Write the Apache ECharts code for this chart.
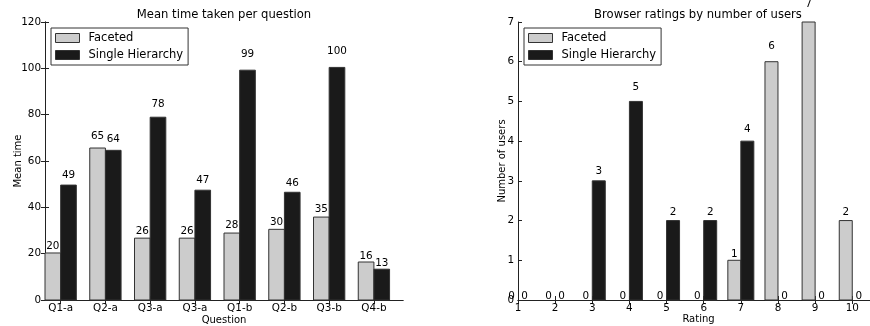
<!DOCTYPE html>
<html><head><meta charset="utf-8">
<script src="https://cdn.jsdelivr.net/npm/echarts@6/dist/echarts.min.js"></script>
<style>html,body{margin:0;padding:0;background:#fff}#c{width:870px;height:326px}</style>
</head><body><div id="c"></div>
<script>
const questions = ['Q1-a','Q2-a','Q3-a','Q3-a','Q1-b','Q2-b','Q3-b','Q4-b'];
const facetedTime = [20.3, 65.6, 26.7, 26.7, 28.9, 30.5, 35.8, 16.4];
const singleTime  = [49.6, 64.6, 78.9, 47.4, 99.2, 46.5, 100.4, 13.3];
const ratings = [1,2,3,4,5,6,7,8,9,10];
const facetedUsers = [0,0,0,0,0,0,1,6,7,2];
const singleUsers  = [0,0,3,5,2,2,4,0,0,0];

const FONT = 'DejaVu Sans';
const W = 0.35;
const FACET_COLOR = '#cccccc', SINGLE_COLOR = '#1a1a1a', EDGE = '#333';

function makeRender(offset, color) {
  return function (params, api) {
    const x = api.value(0) + offset;
    const h = api.value(1);
    const p0 = api.coord([x, h]);
    const p1 = api.coord([x + W, 0]);
    const children = [];
    if (h > 0) {
      children.push({type:'rect', shape:{x:p0[0], y:p0[1], width:p1[0]-p0[0], height:p1[1]-p0[1]},
        style:{fill:color, stroke:EDGE, lineWidth:1}});
    }
    const t = api.coord([x + W/2, 1.05*h]);
    children.push({type:'text', x:t[0], y:t[1]+1, style:{text:String(Math.floor(h)), fill:'#000',
      fontSize:10.4, fontFamily:FONT, align:'center', verticalAlign:'bottom'}});
    return {type:'group', children};
  };
}

const spine = {show:true, lineStyle:{color:'#222', width:1}};
const tickIn = {show:true, inside:true, length:4, lineStyle:{color:'#222', width:1}};
const lbl = {color:'#000', fontSize:10.4, fontFamily:FONT};
const nameStyle = {fontFamily:FONT, fontSize:10, color:'#000'};

const leftTickPos = questions.map((q,i)=>i+W);

function legendFor(left) {
  return {
    left:left, top:28, orient:'vertical', padding:[3,5,3,4], itemGap:3,
    itemWidth:24, itemHeight:9, borderColor:'#333', borderWidth:1, backgroundColor:'#fff',
    textStyle:{fontFamily:FONT, fontSize:11.5, color:'#000', lineHeight:14, padding:[0,0,0,4]},
    data:[
      {name:'Faceted', icon:'rect', itemStyle:{color:FACET_COLOR, borderColor:EDGE, borderWidth:1}},
      {name:'Single Hierarchy', icon:'rect', itemStyle:{color:SINGLE_COLOR, borderColor:EDGE, borderWidth:1}}
    ]
  };
}

const option = {
  animation:false,
  title:[
    {text:'Mean time taken per question', left:224, top:9, textAlign:'center', padding:0,
     textStyle:{fontFamily:FONT, fontSize:11.6, fontWeight:'normal', color:'#000'}},
    {text:'Browser ratings by number of users', left:698, top:9, textAlign:'center', padding:0,
     textStyle:{fontFamily:FONT, fontSize:11.6, fontWeight:'normal', color:'#000'}}
  ],
  legend:[legendFor(51), legendFor(524)],
  grid:[
    {left:45, top:22, width:358, height:278, outerBoundsMode:'none'},
    {left:518, top:22, width:361, height:278, outerBoundsMode:'none'}
  ],
  xAxis:[
    {type:'value', gridIndex:0, min:0, max:questions.length, position:'bottom',
     axisLine:spine, axisTick:Object.assign({}, tickIn, {customValues:leftTickPos}),
     axisLabel:Object.assign({}, lbl, {margin:3, customValues:leftTickPos,
       formatter:(v)=>questions[Math.round(v-W)]}),
     splitLine:{show:false}, name:'Question', nameLocation:'middle', nameGap:15, nameMoveOverlap:false,
     nameTextStyle:nameStyle},
    {type:'value', gridIndex:0, min:0, max:questions.length, position:'top',
     axisLine:spine, axisTick:Object.assign({}, tickIn, {customValues:leftTickPos}),
     axisLabel:{show:false}, splitLine:{show:false}},
    {type:'value', gridIndex:1, min:1, max:10.72, position:'bottom',
     axisLine:spine, axisTick:Object.assign({}, tickIn, {customValues:ratings}),
     axisLabel:Object.assign({}, lbl, {margin:3, customValues:ratings}),
     splitLine:{show:false}, name:'Rating', nameLocation:'middle', nameGap:14, nameMoveOverlap:false,
     nameTextStyle:nameStyle},
    {type:'value', gridIndex:1, min:1, max:10.72, position:'top',
     axisLine:spine, axisTick:Object.assign({}, tickIn, {customValues:ratings}),
     axisLabel:{show:false}, splitLine:{show:false}}
  ],
  yAxis:[
    {type:'value', gridIndex:0, min:0, max:120, interval:20, position:'left',
     axisLine:spine, axisTick:tickIn, axisLabel:Object.assign({}, lbl, {margin:4}),
     splitLine:{show:false}, name:'Mean time', nameLocation:'middle', nameGap:22, nameMoveOverlap:false,
     nameTextStyle:nameStyle},
    {type:'value', gridIndex:0, min:0, max:120, interval:20, position:'right',
     axisLine:spine, axisTick:tickIn, axisLabel:{show:false}, splitLine:{show:false}},
    {type:'value', gridIndex:1, min:0, max:7, interval:1, position:'left',
     axisLine:spine, axisTick:tickIn, axisLabel:Object.assign({}, lbl, {margin:4}),
     splitLine:{show:false}, name:'Number of users', nameLocation:'middle', nameGap:11, nameMoveOverlap:false,
     nameTextStyle:nameStyle},
    {type:'value', gridIndex:1, min:0, max:7, interval:1, position:'right',
     axisLine:spine, axisTick:tickIn, axisLabel:{show:false}, splitLine:{show:false}}
  ],
  series:[
    {type:'custom', name:'Faceted', xAxisIndex:0, yAxisIndex:0, clip:false,
     itemStyle:{color:FACET_COLOR, borderColor:EDGE, borderWidth:1},
     renderItem:makeRender(0, FACET_COLOR), data:facetedTime.map((v,i)=>[i,v])},
    {type:'custom', name:'Single Hierarchy', xAxisIndex:0, yAxisIndex:0, clip:false,
     itemStyle:{color:SINGLE_COLOR, borderColor:EDGE, borderWidth:1},
     renderItem:makeRender(W, SINGLE_COLOR), data:singleTime.map((v,i)=>[i,v])},
    {type:'custom', name:'Faceted', xAxisIndex:2, yAxisIndex:2, clip:false,
     itemStyle:{color:FACET_COLOR, borderColor:EDGE, borderWidth:1},
     renderItem:makeRender(-W, FACET_COLOR), data:facetedUsers.map((v,i)=>[ratings[i],v])},
    {type:'custom', name:'Single Hierarchy', xAxisIndex:2, yAxisIndex:2, clip:false,
     itemStyle:{color:SINGLE_COLOR, borderColor:EDGE, borderWidth:1},
     renderItem:makeRender(0, SINGLE_COLOR), data:singleUsers.map((v,i)=>[ratings[i],v])}
  ]
};
const chart = echarts.init(document.getElementById('c'), null, {renderer:'canvas'});
chart.setOption(option);
</script>
</body></html>
